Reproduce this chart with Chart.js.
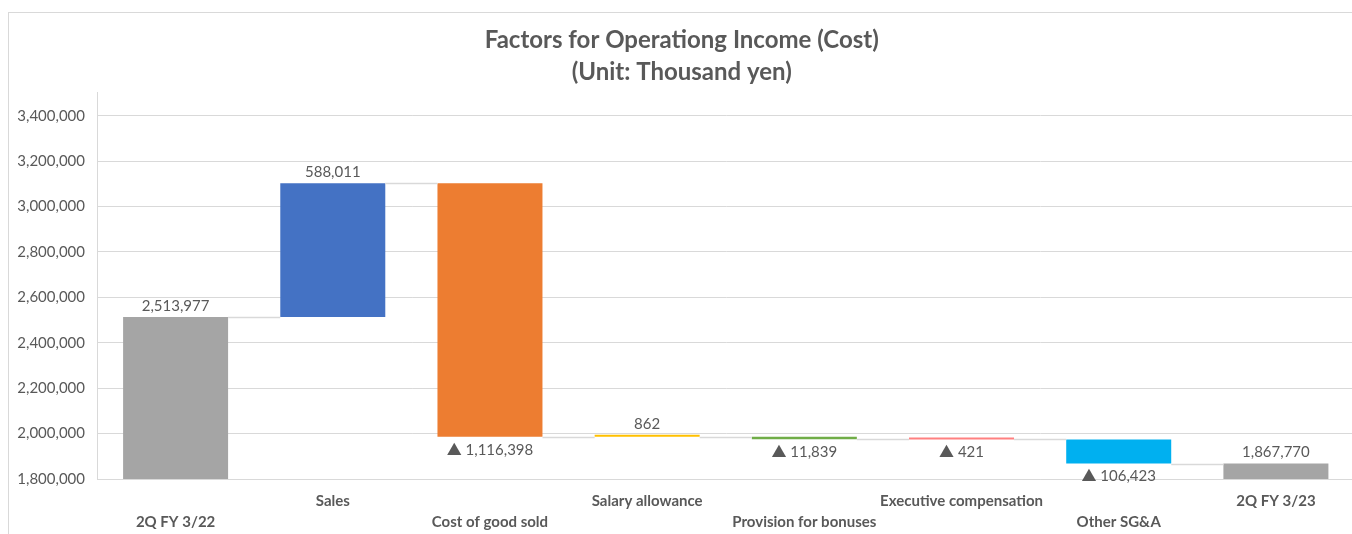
<!DOCTYPE html>
<html>
<head>
<meta charset="utf-8">
<script src="https://cdn.jsdelivr.net/npm/chart.js@4.4.1/dist/chart.umd.min.js"></script>
<style>
  html, body { margin: 0; padding: 0; background: #fff; overflow: hidden; }
  .chart-box {
    position: absolute; left: 8px; top: 12px;
    width: 1356px; height: 540px;
    border: 1px solid #d9d9d9;
  }
</style>
</head>
<body>
<div class="chart-box">
  <canvas id="waterfall" width="1356" height="540"></canvas>
</div>
<script>
// categories and values (thousand yen)
const categories = ['2Q FY 3/22', 'Sales', 'Cost of good sold', 'Salary allowance',
  'Provision for bonuses', 'Executive compensation', 'Other SG&A', '2Q FY 3/23'];
const totals  = [2513977, null, null, null, null, null, null, 1867770];
const changes = [null, 588011, -1116398, 862, -11839, -421, -106423, null];
const yTicks  = [1800000, 2000000, 2200000, 2400000, 2600000, 2800000, 3000000, 3200000, 3400000];
const barColors = ['#A5A5A5', '#4472C4', '#ED7D31', '#FFC000', '#70AD47', '#FF8080', '#00B0F0', '#A5A5A5'];

const yMin = 1800000, yMax = 3500000;
const fontName = 'Lato, "Noto Sans CJK JP", sans-serif';
const textColor = '#595959';

// build floating ranges, running total carried from bar to bar
let running = 0;
const ranges = categories.map((c, i) => {
  if (totals[i] !== null) {
    running = totals[i];
    return [yMin, totals[i]];
  }
  const from = running;
  running += changes[i];
  return [from, running];
});

// negatives are written with a ▲ in front
function labelFor(i) {
  if (totals[i] !== null) return totals[i].toLocaleString('en-US');
  const v = changes[i];
  return v < 0 ? '▲ ' + Math.abs(v).toLocaleString('en-US') : v.toLocaleString('en-US');
}

// connector lines + value labels
const waterfallExtras = {
  id: 'waterfallExtras',
  afterDatasetsDraw(chart) {
    const ctx = chart.ctx;
    const meta = chart.getDatasetMeta(0);
    const y = chart.scales.y;
    ctx.save();
    ctx.strokeStyle = '#d9d9d9';
    ctx.lineWidth = 1.5;
    for (let i = 0; i < meta.data.length - 1; i++) {
      const a = meta.data[i], b = meta.data[i + 1];
      const py = Math.round(y.getPixelForValue(ranges[i][1])) + 0.5;
      ctx.beginPath();
      ctx.moveTo(a.x + a.width / 2, py);
      ctx.lineTo(b.x - b.width / 2, py);
      ctx.stroke();
    }
    ctx.fillStyle = textColor;
    ctx.font = '15px ' + fontName;
    ctx.textAlign = 'center';
    ctx.textBaseline = 'middle';
    meta.data.forEach((bar, i) => {
      const top = Math.min(bar.y, bar.base);
      const bottom = Math.max(bar.y, bar.base);
      const down = totals[i] === null && changes[i] < 0;
      ctx.fillText(labelFor(i), bar.x, down ? bottom + 13 : top - 11);
    });
    ctx.restore();
  }
};

new Chart(document.getElementById('waterfall'), {
  type: 'bar',
  data: {
    labels: categories,
    datasets: [{
      data: ranges,
      backgroundColor: barColors,
      borderWidth: 0,
      barPercentage: 0.668,
      categoryPercentage: 1,
      minBarLength: 2
    }]
  },
  options: {
    responsive: false,
    animation: false,
    layout: { padding: { left: 0, right: 10.5, top: 0, bottom: 0 } },
    plugins: {
      legend: { display: false },
      tooltip: { enabled: false },
      title: {
        display: true,
        text: ['Factors for Operationg Income (Cost)', '(Unit: Thousand yen)'],
        color: textColor,
        font: { family: 'Lato, sans-serif', size: 24, weight: 'bold', lineHeight: 1.333 },
        padding: { top: 11, bottom: 5 }
      }
    },
    scales: {
      x: {
        grid: { display: false, drawTicks: false },
        border: { color: '#d9d9d9' },
        ticks: {
          color: textColor,
          font: { family: 'Lato, sans-serif', size: 15, weight: 'bold', lineHeight: 1.4 },
          maxRotation: 0,
          autoSkip: false,
          padding: 11.5,
          callback: (v, i) => i % 2 === 0 ? ['', categories[i]] : categories[i]
        },
        afterFit(scale) { scale.height = 74; }
      },
      y: {
        min: yMin,
        max: yMax,
        grid: { color: '#d9d9d9', drawTicks: false },
        border: { color: '#d9d9d9' },
        ticks: {
          color: textColor,
          font: { family: 'Lato, sans-serif', size: 15 },
          padding: 12,
          callback: v => v.toLocaleString('en-US')
        },
        afterBuildTicks(scale) {
          scale.ticks = yTicks.map(v => ({ value: v }));
        },
        afterFit(scale) { scale.width = 88; }
      }
    }
  },
  plugins: [waterfallExtras]
});
</script>
</body>
</html>
